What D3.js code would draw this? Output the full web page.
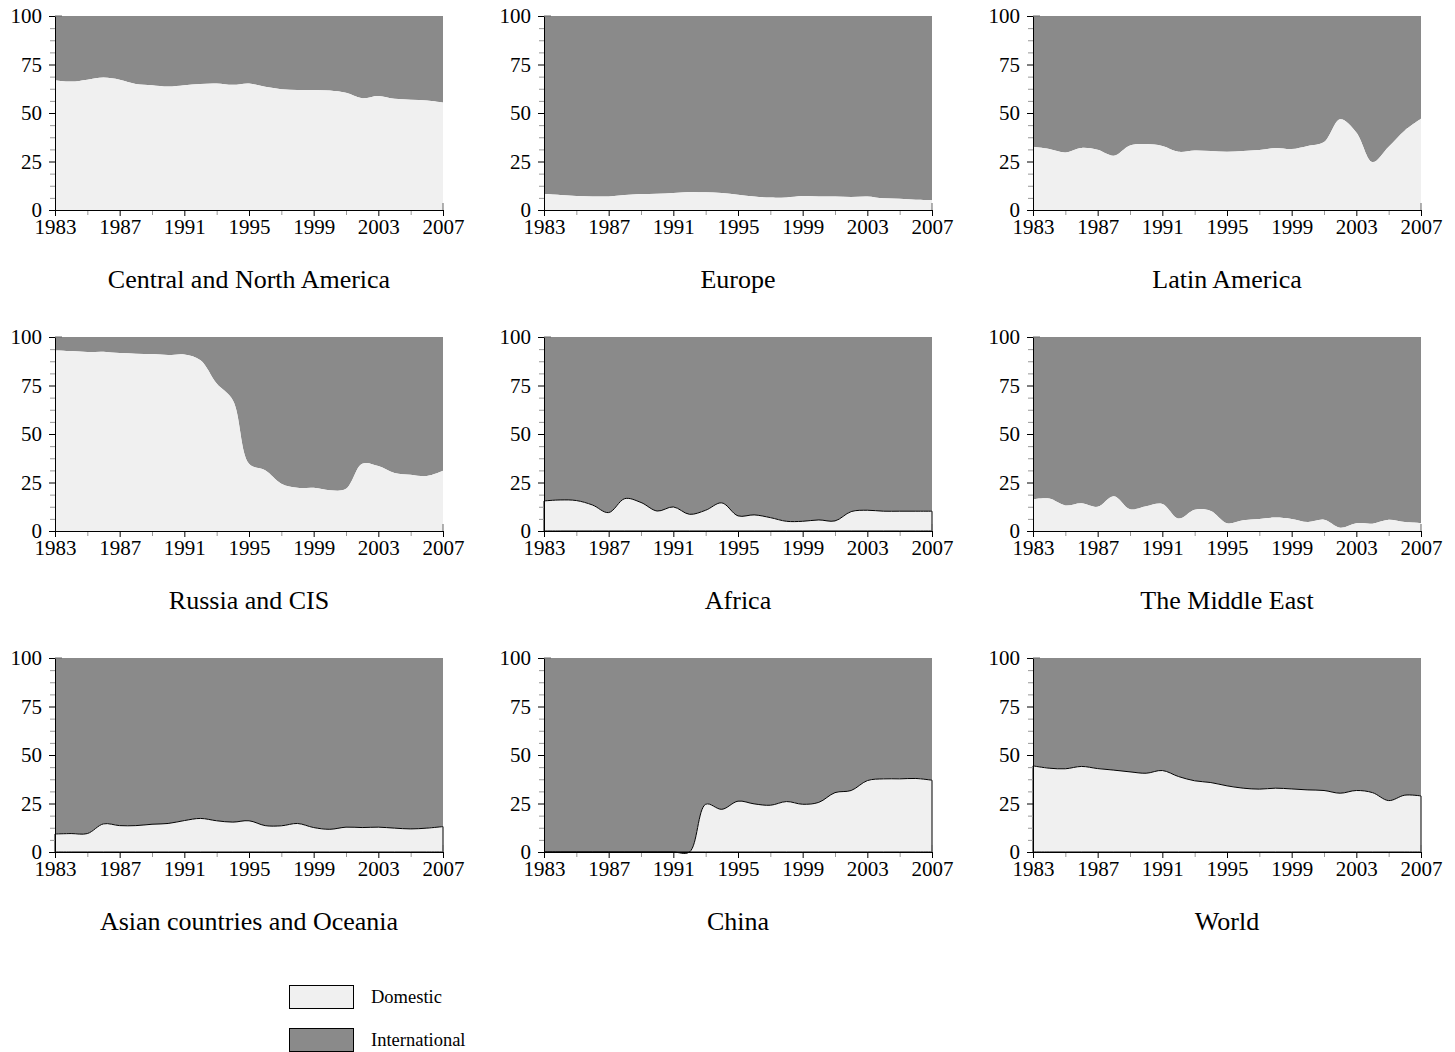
<!DOCTYPE html>
<html>
<head>
<meta charset="utf-8">
<script src="https://cdn.jsdelivr.net/npm/d3@7"></script>
<style>
  body { margin: 0; background: #fff; }
  svg { display: block; }
  text { font-family: "Liberation Serif", "Times New Roman", serif; fill: #000; }
</style>
</head>
<body>
<svg id="chart" width="1455" height="1052"></svg>
<script>
// Share of domestic vs international activity by region, 1983-2007 (%)
const years = [1983, 1984, 1985, 1986, 1987, 1988, 1989, 1990, 1991, 1992, 1993, 1994, 1995,
               1996, 1997, 1998, 1999, 2000, 2001, 2002, 2003, 2004, 2005, 2006, 2007];
const xTickYears = [1983, 1987, 1991, 1995, 1999, 2003, 2007];
const xMinorYears = [1985, 1989, 1993, 1997, 2001, 2005];
const yTicks = [0, 25, 50, 75, 100];
const yMinorTicks = [6.25, 12.5, 18.75, 31.25, 37.5, 43.75, 56.25, 62.5, 68.75, 81.25, 87.5, 93.75];

const regionNames = [
  "Central and North America", "Europe", "Latin America",
  "Russia and CIS", "Africa", "The Middle East",
  "Asian countries and Oceania", "China", "World"
];

// Domestic share per year; international share is the remainder up to 100
const centralNorthAmerica = [66.9, 66.2, 67.2, 68.3, 67.2, 65.0, 64.3, 63.6, 64.3, 65.0, 65.2, 64.5, 65.2,
                             63.5, 62.3, 61.9, 61.9, 61.6, 60.4, 57.6, 58.8, 57.3, 56.8, 56.4, 55.4];
const europe = [8.2, 7.7, 7.2, 7.0, 7.0, 7.7, 8.2, 8.4, 8.8, 9.3, 9.1, 8.8, 7.9,
                6.9, 6.4, 6.5, 7.2, 7.0, 7.0, 6.7, 7.0, 6.0, 5.8, 5.3, 5.2];
const latinAmerica = [32.6, 31.5, 29.7, 32.0, 31.0, 28.0, 33.3, 34.0, 33.0, 30.0, 30.7, 30.4, 30.0,
                      30.4, 30.9, 32.0, 31.4, 33.0, 35.0, 46.8, 40.0, 24.7, 32.6, 41.0, 47.0];
const russiaCIS = [93.1, 92.8, 92.3, 92.4, 91.7, 91.4, 91.2, 90.7, 91.0, 88.0, 76.0, 67.4, 34.7,
                   31.3, 24.4, 22.3, 22.3, 21.0, 21.8, 34.7, 33.5, 29.9, 29.0, 28.3, 31.0];
const africa = [15.5, 16.0, 15.7, 13.4, 9.5, 16.7, 14.7, 10.3, 12.4, 8.6, 10.7, 14.5, 7.8,
                8.3, 6.9, 5.0, 5.0, 5.7, 5.2, 10.0, 10.7, 10.2, 10.2, 10.2, 10.2];
const middleEast = [16.3, 16.7, 13.2, 14.3, 12.5, 17.9, 11.2, 12.7, 13.9, 6.4, 11.0, 10.3, 4.0,
                    5.5, 6.2, 6.9, 6.2, 4.6, 5.8, 1.7, 4.0, 3.8, 5.8, 4.6, 4.1];
const asiaOceania = [9.3, 9.5, 9.5, 14.5, 13.6, 13.6, 14.3, 14.7, 16.2, 17.3, 16.1, 15.4, 16.1,
                     13.6, 13.5, 14.7, 12.6, 11.7, 12.8, 12.6, 12.8, 12.3, 11.9, 12.3, 13.1];
const china = [0, 0, 0, 0, 0, 0, 0, 0, 0, 0, 24.6, 22.0, 26.2,
               24.8, 24.1, 26.0, 24.6, 25.6, 30.6, 31.7, 36.8, 37.7, 37.7, 37.9, 37.0];
const world = [44.4, 43.2, 42.9, 44.1, 43.0, 42.2, 41.3, 40.6, 42.0, 38.9, 36.7, 35.8, 34.1,
               32.9, 32.4, 32.9, 32.5, 32.0, 31.7, 30.3, 31.7, 30.6, 26.5, 29.3, 28.9];

const domesticSeries = [centralNorthAmerica, europe, latinAmerica, russiaCIS, africa,
                        middleEast, asiaOceania, china, world];
const legendLabels = ["Domestic", "International"];

// Layout and styling
const panelW = 388, panelH = 194;
const colX = [55, 544, 1033];
const rowY = [16, 337, 658];
const outlined = new Set(["Africa", "Asian countries and Oceania", "China", "World"]);
const domesticColor = "#f0f0f0";
const internationalColor = "#8a8a8a";
const serif = "'Liberation Serif', 'Times New Roman', serif";

const svg = d3.select("#chart");
const x = d3.scaleLinear().domain([years[0], years[years.length - 1]]).range([0, panelW]);
const y = d3.scaleLinear().domain([0, 100]).range([panelH, 0]);
const curve = d3.curveCatmullRom.alpha(0.5);

regionNames.forEach((name, i) => {
  const values = domesticSeries[i];
  const rows = years.map((yr, k) => ({ year: yr, dom: values[k] }));
  const g = svg.append("g")
    .attr("transform", `translate(${colX[i % 3]},${rowY[Math.floor(i / 3)]})`);

  // International band: from domestic share up to 100
  g.append("path")
    .datum(rows)
    .attr("fill", internationalColor)
    .attr("d", d3.area().curve(curve)
      .x(d => x(d.year)).y0(d => y(d.dom)).y1(() => y(100)));

  // Domestic band: from 0 up to domestic share
  g.append("path")
    .datum(rows)
    .attr("fill", domesticColor)
    .attr("stroke", outlined.has(name) ? "#000" : "none")
    .attr("stroke-width", 1)
    .attr("d", d3.area().curve(curve)
      .x(d => x(d.year)).y0(() => y(0)).y1(d => y(d.dom)));

  // Minor ticks
  g.append("g")
    .call(d3.axisLeft(y).tickValues(yMinorTicks).tickSize(5).tickFormat(""))
    .call(a => a.select(".domain").remove())
    .call(a => a.selectAll("line").attr("stroke", "#999"));
  g.append("g")
    .attr("transform", `translate(0,${panelH})`)
    .call(d3.axisBottom(x).tickValues(xMinorYears).tickSize(5).tickFormat(""))
    .call(a => a.select(".domain").remove())
    .call(a => a.selectAll("line").attr("stroke", "#999"));

  // Major axes
  const yAxis = g.append("g")
    .call(d3.axisLeft(y).tickValues(yTicks).tickSize(6).tickSizeOuter(0).tickPadding(7));
  const xAxis = g.append("g")
    .attr("transform", `translate(0,${panelH})`)
    .call(d3.axisBottom(x).tickValues(xTickYears).tickFormat(d3.format("d"))
      .tickSize(6).tickSizeOuter(0).tickPadding(3));
  [yAxis, xAxis].forEach(a => {
    a.selectAll("text").style("font-size", "21px").style("font-family", serif);
    a.select(".domain").attr("stroke", "#000");
  });

  // Inner end stubs at the top of the y axis and right end of the x axis
  g.append("line")
    .attr("x1", x(years[0])).attr("x2", x(years[0]) + 7)
    .attr("y1", y(100)).attr("y2", y(100))
    .attr("stroke", "#666");
  g.append("line")
    .attr("x1", x(years[years.length - 1])).attr("x2", x(years[years.length - 1]))
    .attr("y1", y(0) - 7).attr("y2", y(0))
    .attr("stroke", "#666");

  // Panel title
  g.append("text")
    .attr("x", panelW / 2)
    .attr("y", panelH + 78)
    .attr("text-anchor", "middle")
    .style("font-size", "26px")
    .text(name);
});

// Legend
const legendColors = [domesticColor, internationalColor];
const legend = svg.append("g").attr("transform", "translate(289,985)");
legendLabels.forEach((lab, i) => {
  const row = legend.append("g").attr("transform", `translate(0,${i * 43})`);
  row.append("rect")
    .attr("x", 0.5).attr("y", 0.5)
    .attr("width", 64).attr("height", 23)
    .attr("fill", legendColors[i])
    .attr("stroke", "#000").attr("stroke-width", 1);
  row.append("text")
    .attr("x", 82).attr("y", 18)
    .style("font-size", "18.5px")
    .text(lab);
});
</script>
</body>
</html>
